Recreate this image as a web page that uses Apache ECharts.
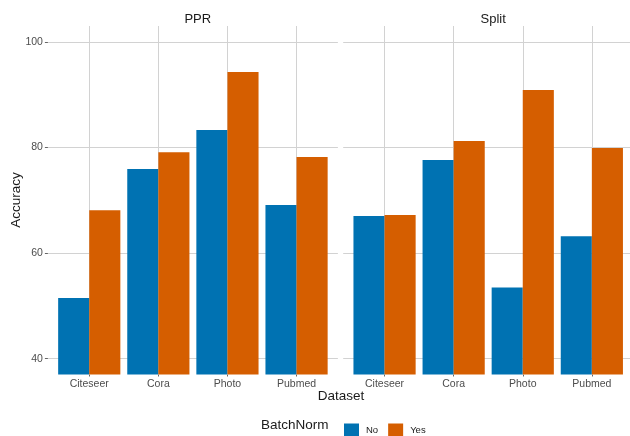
<!DOCTYPE html>
<html>
<head>
<meta charset="utf-8">
<script src="https://cdn.jsdelivr.net/npm/echarts@6/dist/echarts.min.js"></script>
<style>
  html, body { margin: 0; padding: 0; background: #fff; }
  #chart { width: 630px; height: 436px; }
</style>
</head>
<body>
<div id="chart"></div>
<script>
// Accuracy by dataset, with and without batch normalisation, for two methods
const datasets = ['Citeseer', 'Cora', 'Photo', 'Pubmed'];
const panels = ['PPR', 'Split'];
const pprNo = [51.5, 75.9, 83.3, 69.1];
const pprYes = [68.1, 79.1, 94.3, 78.2];
const splitNo = [67.0, 77.6, 53.5, 63.2];
const splitYes = [67.2, 81.2, 90.9, 79.9];
const yTicks = [40, 60, 80, 100];

const BLUE = '#0072B2';
const ORANGE = '#D55E00';
const GRID = '#d2d2d2';
const FONT = 'Liberation Sans, Arial, sans-serif';
const Y_MIN = 37, Y_MAX = 103;

// Each facet has a background panel (horizontal grid, y labels) and an
// inner plotting area for the bars, inset so categories keep 0.6 band of padding.
const TOP = 26, HEIGHT = 348.5, BAND = 69.1;
const panelLeft = [47.9, 343.2];
const PANEL_W = 290;
const grids = [];
panelLeft.forEach(l => {
  grids.push({ left: l, top: TOP, width: PANEL_W, height: HEIGHT });
  grids.push({ left: l + 0.1 * BAND + (PANEL_W - 4.2 * BAND) / 2, top: TOP, width: 4 * BAND, height: HEIGHT });
});

const xAxes = [], yAxes = [];
panelLeft.forEach((l, p) => {
  // background panel axes
  xAxes.push({ type: 'value', gridIndex: 2 * p, min: 0, max: 1, show: false });
  yAxes.push({
    type: 'value', gridIndex: 2 * p, min: Y_MIN, max: Y_MAX,
    axisLine: { show: false },
    axisTick: { show: p === 0, length: 3, customValues: yTicks, lineStyle: { color: '#666' } },
    axisLabel: { show: p === 0, customValues: yTicks, color: '#4d4d4d', fontSize: 10.5, fontFamily: FONT, margin: 5 },
    splitLine: { show: true, lineStyle: { color: GRID, width: 1 } }
  });
  // bar area axes
  xAxes.push({
    type: 'category', gridIndex: 2 * p + 1, data: datasets, boundaryGap: true,
    axisLine: { show: false },
    axisTick: { show: true, alignWithLabel: true, length: 2, lineStyle: { color: '#666' } },
    axisLabel: { color: '#4d4d4d', fontSize: 10.5, fontFamily: FONT, margin: 4 },
    splitLine: { show: false }
  });
  yAxes.push({ type: 'value', gridIndex: 2 * p + 1, min: Y_MIN, max: Y_MAX, show: false, splitLine: { show: false } });
});

function bars(name, data, idx, color) {
  return {
    name: name, type: 'bar', xAxisIndex: idx, yAxisIndex: idx, data: data,
    barGap: '0%', barCategoryGap: '10%', z: 3,
    itemStyle: { color: color },
    emphasis: { disabled: true }
  };
}

// vertical grid lines through each category centre, kept behind the bars
function categoryLines(idx) {
  return {
    type: 'line', xAxisIndex: idx, yAxisIndex: idx, data: [], z: 1, silent: true,
    markLine: {
      z: 1, silent: true, symbol: ['none', 'none'], label: { show: false },
      lineStyle: { color: GRID, width: 1, type: 'solid' },
      emphasis: { disabled: true },
      data: datasets.map(d => ({ xAxis: d }))
    }
  };
}

const option = {
  animation: false,
  backgroundColor: '#ffffff',
  grid: grids,
  xAxis: xAxes,
  yAxis: yAxes,
  title: [
    { text: panels[0], left: 192.8, top: 8, textAlign: 'center',
      textStyle: { fontSize: 13, fontWeight: 'normal', color: '#1a1a1a', fontFamily: FONT } },
    { text: panels[1], left: 488.2, top: 8, textAlign: 'center',
      textStyle: { fontSize: 13, fontWeight: 'normal', color: '#1a1a1a', fontFamily: FONT } }
  ],
  legend: {
    data: ['No', 'Yes'],
    left: 339, top: 418.5,
    itemWidth: 15, itemHeight: 14, itemGap: 10,
    icon: 'rect',
    textStyle: { fontSize: 9.5, color: '#1a1a1a', fontFamily: FONT, padding: [0, 0, 0, 2] }
  },
  graphic: [
    { type: 'text', left: 261, top: 418,
      style: { text: 'BatchNorm', fontSize: 13.5, fill: '#1a1a1a', fontFamily: FONT } },
    { type: 'text', x: 341, y: 389.5,
      style: { text: 'Dataset', fontSize: 13.5, fill: '#1a1a1a', fontFamily: FONT, align: 'center', verticalAlign: 'top' } },
    { type: 'text', x: 9, y: 200, rotation: Math.PI / 2,
      style: { text: 'Accuracy', fontSize: 13.5, fill: '#1a1a1a', fontFamily: FONT, align: 'center', verticalAlign: 'top' } }
  ],
  series: [
    categoryLines(1),
    categoryLines(3),
    bars('No', pprNo, 1, BLUE),
    bars('Yes', pprYes, 1, ORANGE),
    bars('No', splitNo, 3, BLUE),
    bars('Yes', splitYes, 3, ORANGE)
  ]
};

const chart = echarts.init(document.getElementById('chart'), null, { renderer: 'canvas' });
chart.setOption(option);
</script>
</body>
</html>
